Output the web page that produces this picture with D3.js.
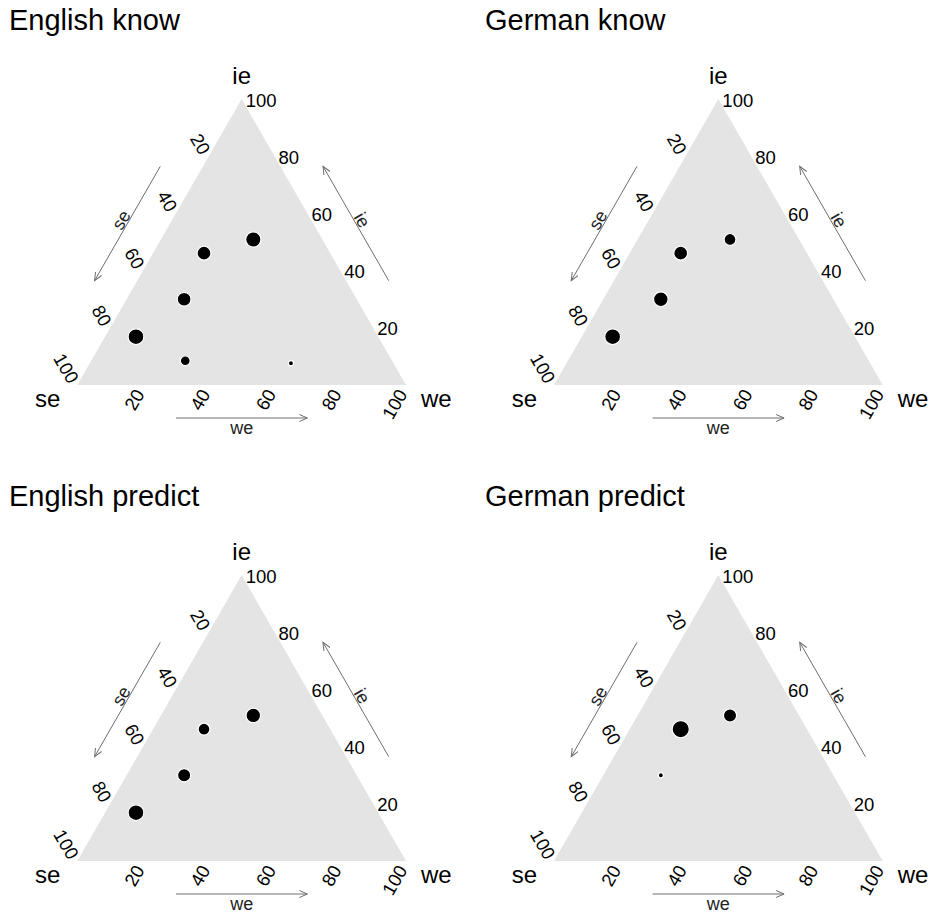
<!DOCTYPE html>
<html>
<head>
<meta charset="utf-8">
<script src="https://cdn.jsdelivr.net/npm/d3@7"></script>
<style>
  body { margin: 0; background: #fff; }
  text { font-family: "Liberation Sans", Arial, sans-serif; fill: #000; }
</style>
</head>
<body>
<script>
// panel titles
const titles = ["English know", "German know", "English predict", "German predict"];

// the six response categories (percent se / ie / we), shared by all panels
const seVals = [21.0, 38.4, 52.5, 73.7, 62.9, 31.2];
const ieVals = [50.9, 46.1, 30.0, 16.9, 8.5, 7.6];
const weVals = [28.1, 15.5, 17.5, 9.4, 28.6, 61.2];

// bubble sizes (counts) for each panel, 0 = no point
const enKnow = [77, 62, 62, 83, 29, 6];
const deKnow = [44, 62, 70, 83, 0, 0];
const enPredict = [70, 44, 56, 83, 0, 0];
const dePredict = [56, 100, 6, 0, 0, 0];
const panelSizes = [enKnow, deKnow, enPredict, dePredict];

// axis ticks
const tickVals = [20, 40, 60, 80, 100];

const width = 935, height = 920;
const svg = d3.select("body").append("svg")
    .attr("width", width)
    .attr("height", height);

const side = 328.7, triH = 286;
// bottom-left corner of each triangle
const origins = [[77.3, 385], [554, 385], [77.3, 861], [554, 861]];
const titlePos = [[9, 30], [485, 30], [9, 506], [485, 506]];

const xScale = d3.scaleLinear().domain([0, 100]).range([0, side]);
const yScale = d3.scaleLinear().domain([0, 100]).range([0, -triH]);
const rScale = d3.scaleSqrt().domain([0, 100]).range([0, 8]);

// ternary -> cartesian, relative to bottom-left corner
function proj(se, ie, we) {
    return [xScale(we + ie / 2), yScale(ie)];
}

const arrowCol = "#6e6e6e";
const defs = svg.append("defs");
defs.append("marker")
    .attr("id", "head")
    .attr("markerUnits", "userSpaceOnUse")
    .attr("markerWidth", 12).attr("markerHeight", 10)
    .attr("refX", 8).attr("refY", 4)
    .attr("orient", "auto")
    .append("path")
    .attr("d", "M0,0.5 L8,4 L0,7.5")
    .attr("fill", "none")
    .attr("stroke", arrowCol)
    .attr("stroke-width", 1);

const leftN = [-Math.cos(Math.PI / 6), -0.5];   // outward normal of left edge
const rightN = [Math.cos(Math.PI / 6), -0.5];   // outward normal of right edge
const sideOff = 37, botOff = 33;

titles.forEach((title, k) => {
    const g = svg.append("g")
        .attr("transform", "translate(" + origins[k][0] + "," + origins[k][1] + ")");

    svg.append("text")
        .attr("x", titlePos[k][0]).attr("y", titlePos[k][1])
        .style("font-size", "29px")
        .text(title);

    // triangle
    const corners = [proj(100, 0, 0), proj(0, 100, 0), proj(0, 0, 100)];
    g.append("path")
        .attr("d", "M" + corners.join("L") + "Z")
        .attr("fill", "#e4e4e4");

    // vertex labels
    const apex = corners[1], bl = corners[0], br = corners[2];
    g.append("text").attr("x", apex[0]).attr("y", apex[1] - 15)
        .attr("text-anchor", "middle").style("font-size", "24px").text("ie");
    g.append("text").attr("x", bl[0] - 17).attr("y", bl[1] + 22)
        .attr("text-anchor", "end").style("font-size", "24px").text("se");
    g.append("text").attr("x", br[0] + 15).attr("y", br[1] + 22)
        .attr("text-anchor", "start").style("font-size", "24px").text("we");

    // tick labels
    tickVals.forEach(v => {
        const pl = proj(v, 100 - v, 0);
        g.append("text")
            .attr("transform", "translate(" + (pl[0] - 9) + "," + pl[1] + ") rotate(60)")
            .attr("text-anchor", "end").style("font-size", "18.5px").text(v);
        const pb = proj(100 - v, 0, v);
        g.append("text")
            .attr("transform", "translate(" + (pb[0] + 2) + "," + (pb[1] + 9) + ") rotate(-60)")
            .attr("text-anchor", "end").style("font-size", "18.5px").text(v);
        const pr = proj(0, v, 100 - v);
        g.append("text")
            .attr("x", pr[0] + 4).attr("y", pr[1] + 1)
            .attr("dominant-baseline", "central")
            .style("font-size", "18.5px").text(v);
    });

    // axis arrows
    const shift = (p, n, d) => [p[0] + n[0] * d, p[1] + n[1] * d];
    const arrows = [
        { a: shift(proj(30, 70, 0), leftN, sideOff), b: shift(proj(70, 30, 0), leftN, sideOff),
          m: shift(proj(50, 50, 0), leftN, sideOff + 1), rot: -60, dy: 0, lab: "se" },
        { a: shift(proj(0, 30, 70), rightN, sideOff), b: shift(proj(0, 70, 30), rightN, sideOff),
          m: shift(proj(0, 50, 50), rightN, sideOff + 1), rot: 60, dy: 0, lab: "ie" },
        { a: [xScale(30), botOff], b: [xScale(70), botOff],
          m: [xScale(50), botOff], rot: 0, dy: 16, lab: "we" }
    ];
    arrows.forEach(ar => {
        g.append("line")
            .attr("x1", ar.a[0]).attr("y1", ar.a[1])
            .attr("x2", ar.b[0]).attr("y2", ar.b[1])
            .attr("stroke", arrowCol).attr("stroke-width", 1)
            .attr("marker-end", "url(#head)");
        g.append("text")
            .attr("transform", "translate(" + ar.m[0] + "," + (ar.m[1] + ar.dy) + ") rotate(" + ar.rot + ")")
            .attr("text-anchor", "middle")
            .style("font-size", "18px").style("fill", "#222")
            .text(ar.lab);
    });

    // bubbles
    const pts = seVals.map((s, i) => ({ se: s, ie: ieVals[i], we: weVals[i], n: panelSizes[k][i] }))
        .filter(d => d.n > 0);
    g.selectAll("circle")
        .data(pts)
        .enter()
        .append("circle")
        .attr("cx", d => proj(d.se, d.ie, d.we)[0])
        .attr("cy", d => proj(d.se, d.ie, d.we)[1])
        .attr("r", d => rScale(d.n) + 0.6)
        .attr("fill", "#000")
        .attr("stroke", "#fff")
        .attr("stroke-width", 1.2);
});
</script>
</body>
</html>
